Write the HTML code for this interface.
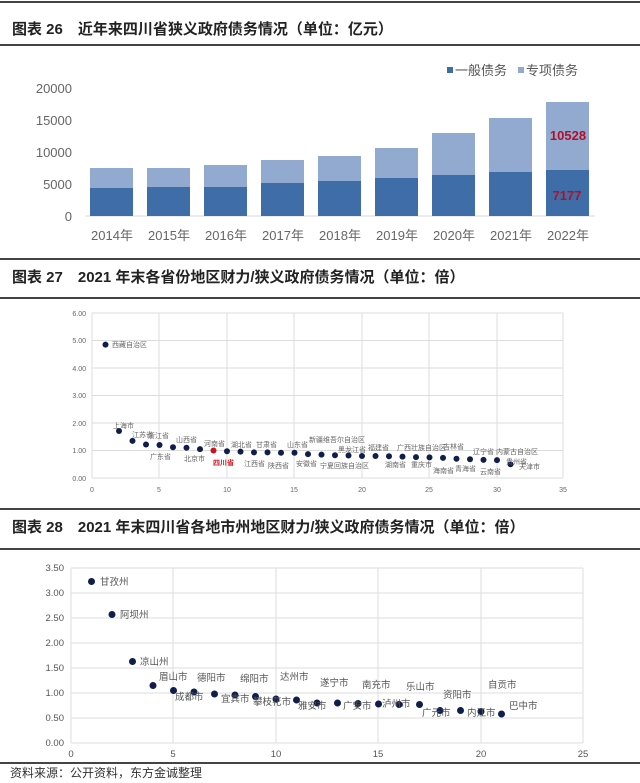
<!DOCTYPE html>
<html><head><meta charset="utf-8"><style>
html,body{margin:0;padding:0;background:#fff;}
svg{display:block;font-family:"Liberation Sans","Noto Sans CJK SC",sans-serif;}
.t{font-size:15px;font-weight:bold;fill:#222;}
.ax{font-size:13px;fill:#666;}
.s{font-size:7px;fill:#666;}
.m{font-size:9.5px;fill:#555;}
.g{stroke:#ddd;stroke-width:1;}
</style></head><body>
<svg width="640" height="783" viewBox="0 0 640 783" xmlns="http://www.w3.org/2000/svg">
<line x1="0" y1="2" x2="640" y2="2" stroke="#444" stroke-width="2"/>
<text x="12" y="34" class="t">图表 26　近年来四川省狭义政府债务情况（单位：亿元）</text>
<line x1="0" y1="45" x2="640" y2="45" stroke="#444" stroke-width="2"/>
<rect x="447" y="67" width="6" height="6" fill="#3F6DA7"/>
<text x="455" y="75" font-size="13" fill="#555">一般债务</text>
<rect x="518" y="67" width="6" height="6" fill="#93AAD0"/>
<text x="526" y="75" font-size="13" fill="#555">专项债务</text>
<g class="ax" text-anchor="end">
<text x="72" y="93">20000</text><text x="72" y="125">15000</text><text x="72" y="157">10000</text><text x="72" y="189">5000</text><text x="72" y="221">0</text>
</g>
<line x1="85" y1="216" x2="595" y2="216" stroke="#d8d8d8"/>
<g class="ax" text-anchor="middle" font-size="12.5">
<text x="112" y="240">2014年</text><text x="169" y="240">2015年</text><text x="226" y="240">2016年</text><text x="283" y="240">2017年</text><text x="340" y="240">2018年</text><text x="397" y="240">2019年</text><text x="454" y="240">2020年</text><text x="511" y="240">2021年</text><text x="568" y="240">2022年</text>
</g>
<line x1="0" y1="259" x2="640" y2="259" stroke="#444" stroke-width="2"/>
<text x="12" y="282" class="t">图表 27　2021 年末各省份地区财力/狭义政府债务情况（单位：倍）</text>
<line x1="0" y1="298" x2="640" y2="298" stroke="#444" stroke-width="2"/>
<line x1="0" y1="509" x2="640" y2="509" stroke="#444" stroke-width="2"/>
<text x="12" y="532" class="t">图表 28　2021 年末四川省各地市州地区财力/狭义政府债务情况（单位：倍）</text>
<line x1="0" y1="549" x2="640" y2="549" stroke="#444" stroke-width="2"/>
<line x1="0" y1="763" x2="640" y2="763" stroke="#444" stroke-width="2"/>
<text x="10" y="777" font-size="12" fill="#333">资料来源：公开资料，东方金诚整理</text>

<g>
<rect x="90" y="168" width="43" height="48" fill="#93AAD0"/><rect x="90" y="188" width="43" height="28" fill="#3F6DA7"/>
<rect x="147" y="168" width="43" height="48" fill="#93AAD0"/><rect x="147" y="187" width="43" height="29" fill="#3F6DA7"/>
<rect x="204" y="165" width="43" height="51" fill="#93AAD0"/><rect x="204" y="187" width="43" height="29" fill="#3F6DA7"/>
<rect x="261" y="160" width="43" height="56" fill="#93AAD0"/><rect x="261" y="183" width="43" height="33" fill="#3F6DA7"/>
<rect x="318" y="156" width="43" height="60" fill="#93AAD0"/><rect x="318" y="181" width="43" height="35" fill="#3F6DA7"/>
<rect x="375" y="148" width="43" height="68" fill="#93AAD0"/><rect x="375" y="178" width="43" height="38" fill="#3F6DA7"/>
<rect x="432" y="133" width="43" height="83" fill="#93AAD0"/><rect x="432" y="175" width="43" height="41" fill="#3F6DA7"/>
<rect x="489" y="118" width="43" height="98" fill="#93AAD0"/><rect x="489" y="172" width="43" height="44" fill="#3F6DA7"/>
<rect x="546" y="102" width="43" height="114" fill="#93AAD0"/><rect x="546" y="170" width="43" height="46" fill="#3F6DA7"/>
<text x="568" y="140" text-anchor="middle" font-size="13" font-weight="bold" fill="#B0102A">10528</text>
<text x="567" y="200" text-anchor="middle" font-size="13" font-weight="bold" fill="#B0102A">7177</text>
</g>

<g class="g">
<line x1="92" y1="313" x2="563" y2="313"/><line x1="92" y1="340.5" x2="563" y2="340.5"/><line x1="92" y1="368" x2="563" y2="368"/><line x1="92" y1="395.5" x2="563" y2="395.5"/><line x1="92" y1="423" x2="563" y2="423"/><line x1="92" y1="450.5" x2="563" y2="450.5"/><line x1="92" y1="478" x2="563" y2="478"/>
<line x1="92" y1="313" x2="92" y2="478"/><line x1="159" y1="313" x2="159" y2="478"/><line x1="227" y1="313" x2="227" y2="478"/><line x1="294" y1="313" x2="294" y2="478"/><line x1="362" y1="313" x2="362" y2="478"/><line x1="429" y1="313" x2="429" y2="478"/><line x1="497" y1="313" x2="497" y2="478"/><line x1="563" y1="313" x2="563" y2="478"/>
</g>
<g class="s" text-anchor="end">
<text x="86" y="316">6.00</text><text x="86" y="343">5.00</text><text x="86" y="371">4.00</text><text x="86" y="398">3.00</text><text x="86" y="426">2.00</text><text x="86" y="453">1.00</text><text x="86" y="481">0.00</text>
</g>
<g class="s" text-anchor="middle" font-size="8">
<text x="92" y="492">0</text><text x="159" y="492">5</text><text x="227" y="492">10</text><text x="294" y="492">15</text><text x="362" y="492">20</text><text x="429" y="492">25</text><text x="497" y="492">30</text><text x="563" y="492">35</text>
</g>
<g fill="#0F1E4A">
<circle cx="105.5" cy="344.6" r="3"/><circle cx="119" cy="431" r="3"/><circle cx="132.5" cy="440.9" r="3"/><circle cx="146" cy="444.5" r="3"/><circle cx="159.5" cy="445" r="3"/><circle cx="173" cy="447.2" r="3"/><circle cx="186.5" cy="447.8" r="3"/><circle cx="200" cy="449.1" r="3"/>
<circle cx="213.5" cy="450.5" r="3" fill="#D0101C"/>
<circle cx="227" cy="451.3" r="3"/><circle cx="240.5" cy="451.6" r="3"/><circle cx="254" cy="452.4" r="3"/><circle cx="267.5" cy="452.4" r="3"/><circle cx="281" cy="452.7" r="3"/><circle cx="294.5" cy="452.7" r="3"/><circle cx="308" cy="454.1" r="3"/><circle cx="321.5" cy="454.6" r="3"/><circle cx="335" cy="455.2" r="3"/><circle cx="348.5" cy="455.5" r="3"/><circle cx="362" cy="456" r="3"/><circle cx="375.5" cy="456" r="3"/><circle cx="389" cy="456.3" r="3"/><circle cx="402.5" cy="456.6" r="3"/><circle cx="416" cy="457.1" r="3"/><circle cx="429.5" cy="457.4" r="3"/><circle cx="443" cy="457.9" r="3"/><circle cx="456.5" cy="458.8" r="3"/><circle cx="470" cy="459.3" r="3"/><circle cx="483.5" cy="459.9" r="3"/><circle cx="497" cy="460.1" r="3"/><circle cx="510.5" cy="464.3" r="3"/>
</g>
<g class="s">
<text x="112" y="347">西藏自治区</text>
<text x="113" y="428">上海市</text><text x="132" y="437">江苏省</text><text x="148" y="438">浙江省</text><text x="150" y="459">广东省</text><text x="176" y="442">山西省</text><text x="184" y="461">北京市</text><text x="204" y="446">河南省</text>
<text x="213" y="465" fill="#D0101C" font-weight="bold">四川省</text>
<text x="231" y="447">湖北省</text><text x="256" y="447">甘肃省</text><text x="244" y="466">江西省</text><text x="287" y="447">山东省</text><text x="268" y="468">陕西省</text><text x="296" y="466">安徽省</text><text x="309" y="442">新疆维吾尔自治区</text><text x="320" y="468">宁夏回族自治区</text><text x="338" y="452">黑龙江省</text><text x="368" y="450">福建省</text><text x="385" y="467">湖南省</text><text x="397" y="450">广西壮族自治区</text><text x="411" y="467">重庆市</text><text x="433" y="473">海南省</text><text x="443" y="449">吉林省</text><text x="455" y="471">青海省</text><text x="473" y="454">辽宁省</text><text x="496" y="454">内蒙古自治区</text><text x="480" y="474">云南省</text><text x="506" y="464">贵州省</text><text x="519" y="469">天津市</text>
</g>

<g class="g">
<line x1="71" y1="568" x2="583" y2="568"/><line x1="71" y1="593" x2="583" y2="593"/><line x1="71" y1="618" x2="583" y2="618"/><line x1="71" y1="643" x2="583" y2="643"/><line x1="71" y1="668" x2="583" y2="668"/><line x1="71" y1="693" x2="583" y2="693"/><line x1="71" y1="718" x2="583" y2="718"/><line x1="71" y1="743" x2="583" y2="743"/>
<line x1="71" y1="568" x2="71" y2="743"/><line x1="173" y1="568" x2="173" y2="743"/><line x1="276" y1="568" x2="276" y2="743"/><line x1="378" y1="568" x2="378" y2="743"/><line x1="481" y1="568" x2="481" y2="743"/><line x1="583" y1="568" x2="583" y2="743"/>
</g>
<g class="m" text-anchor="end" font-size="9">
<text x="64" y="571">3.50</text><text x="64" y="596">3.00</text><text x="64" y="621">2.50</text><text x="64" y="646">2.00</text><text x="64" y="671">1.50</text><text x="64" y="696">1.00</text><text x="64" y="721">0.50</text><text x="64" y="746">0.00</text>
</g>
<g class="m" text-anchor="middle" font-size="9">
<text x="71" y="757">0</text><text x="173" y="757">5</text><text x="276" y="757">10</text><text x="378" y="757">15</text><text x="481" y="757">20</text><text x="583" y="757">25</text>
</g>
<g fill="#0F1E4A">
<circle cx="91.5" cy="581.5" r="3.5"/><circle cx="112" cy="614.5" r="3.5"/><circle cx="132.5" cy="661.5" r="3.5"/><circle cx="153" cy="685.5" r="3.5"/><circle cx="173.5" cy="690.5" r="3.5"/><circle cx="194" cy="692" r="3.5"/><circle cx="214.5" cy="694" r="3.5"/><circle cx="235" cy="695" r="3.5"/><circle cx="255.5" cy="696.5" r="3.5"/><circle cx="276" cy="699" r="3.5"/><circle cx="296.5" cy="700" r="3.5"/><circle cx="317" cy="703" r="3.5"/><circle cx="337.5" cy="703" r="3.5"/><circle cx="358" cy="703.5" r="3.5"/><circle cx="378.5" cy="704" r="3.5"/><circle cx="399" cy="704.5" r="3.5"/><circle cx="419.5" cy="704.5" r="3.5"/><circle cx="440" cy="710.5" r="3.5"/><circle cx="460.5" cy="710.5" r="3.5"/><circle cx="481" cy="711.5" r="3.5"/><circle cx="501.5" cy="714" r="3.5"/>
</g>
<g class="m" font-size="10">
<text x="100" y="585">甘孜州</text><text x="120" y="618">阿坝州</text><text x="140" y="665">凉山州</text>
<text x="159" y="680">眉山市</text><text x="175" y="700">成都市</text><text x="197" y="681">德阳市</text><text x="221" y="702">宜宾市</text><text x="240" y="682">绵阳市</text><text x="253" y="705">攀枝花市</text><text x="280" y="680">达州市</text><text x="298" y="709">雅安市</text><text x="320" y="686">遂宁市</text><text x="343" y="709">广安市</text><text x="362" y="688">南充市</text><text x="382" y="707">泸州市</text><text x="406" y="690">乐山市</text><text x="422" y="716">广元市</text><text x="443" y="698">资阳市</text><text x="488" y="688">自贡市</text><text x="467" y="716">内江市</text><text x="509" y="709">巴中市</text>
</g>
</svg>
</body></html>
